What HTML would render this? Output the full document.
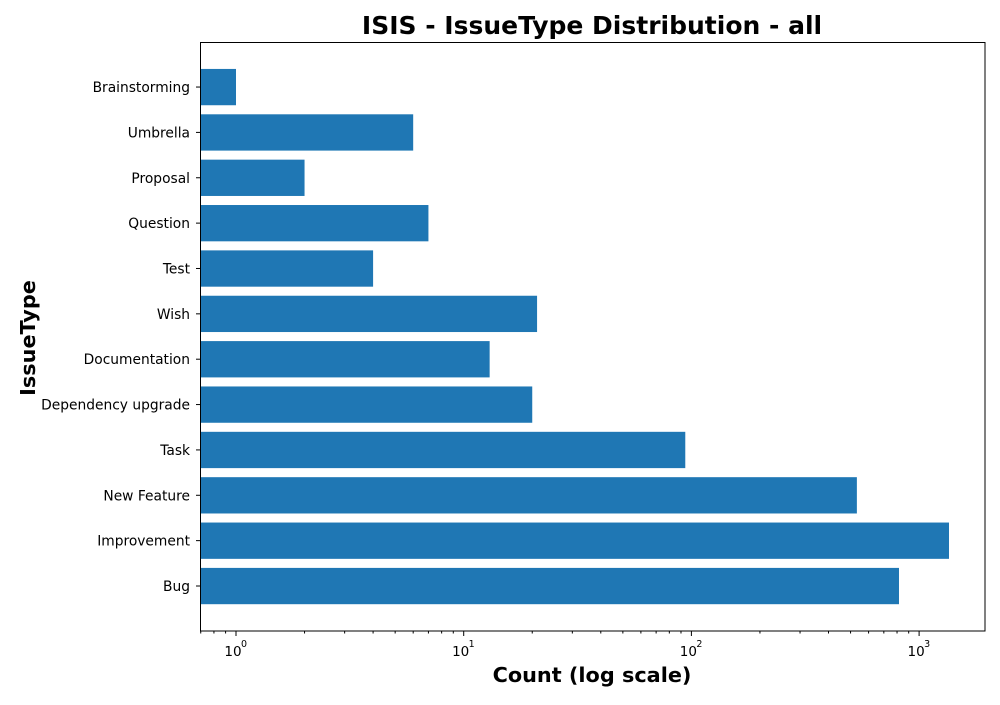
<!DOCTYPE html>
<html><head><meta charset="utf-8"><style>
body{margin:0;background:#fff;font-family:"Liberation Sans","DejaVu Sans",sans-serif}
svg text{font-family:"DejaVu Sans","Liberation Sans",sans-serif}
</style></head><body>
<svg id="chart" width="1000" height="700" xmlns="http://www.w3.org/2000/svg">
<text x="592" y="34" text-anchor="middle" font-size="25" font-weight="bold">ISIS - IssueType Distribution - all</text>
<text x="592" y="682" text-anchor="middle" font-size="20.8" font-weight="bold">Count (log scale)</text>
<text transform="translate(35,338) rotate(-90)" text-anchor="middle" font-size="20.8" font-weight="bold">IssueType</text>
<g id="bars"></g><g id="ticks"></g>
<rect x="200.5" y="42.5" width="784.5" height="588.5" fill="none" stroke="#000" stroke-width="1"/>
</svg>
<script>
const categories=["Bug","Improvement","New Feature","Task","Dependency upgrade","Documentation","Wish","Test","Question","Proposal","Umbrella","Brainstorming"];
const counts=[816,1353,533,94,20,13,21,4,7,2,6,1];
const xTickExps=[0,1,2,3];
const X0=236,DEC=227.7,L=200,R=985;
function x(v){return X0+Math.log10(v)*DEC;}
function y(i){return 586-i*45.36;}
const NS="http://www.w3.org/2000/svg";
const bars=document.getElementById('bars'),ticks=document.getElementById('ticks');
function mk(tag,attrs,parent){const e=document.createElementNS(NS,tag);for(const k in attrs)e.setAttribute(k,attrs[k]);parent.appendChild(e);return e;}
categories.forEach((c,i)=>{
  const b=mk('rect',{x:L,y:y(i)-18.1,width:x(counts[i])-L,height:36.3,fill:'#1f77b4'},bars);
  
  
  mk('line',{x1:L-4,x2:L,y1:y(i),y2:y(i),stroke:'#000'},ticks);
  const t=mk('text',{x:L-10,y:y(i)+5,'text-anchor':'end','font-size':13.8},ticks);
  t.textContent=c;
  
  
});
xTickExps.forEach(e=>{
  const px=x(Math.pow(10,e));
  mk('line',{x1:px,x2:px,y1:631,y2:636,stroke:'#000'},ticks);
  const t=mk('text',{x:px-3,y:656,'text-anchor':'middle','font-size':13.5},ticks);
  t.textContent='10';
  
  
  const s=mk('text',{x:px+8,y:647,'text-anchor':'middle','font-size':9.5},ticks);
  s.textContent=String(e);
});
for(let e=-1;e<=3;e++)for(let m=2;m<=9;m++){
  const px=x(m*Math.pow(10,e));
  if(px<L||px>R)continue;
  mk('line',{x1:px,x2:px,y1:631,y2:633.5,stroke:'#000'},ticks);
}
</script>
</body></html>
